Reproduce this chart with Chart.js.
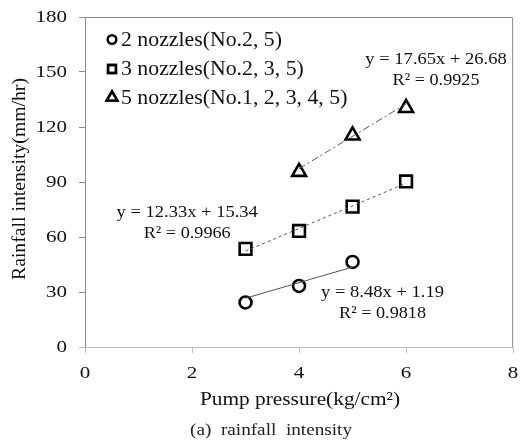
<!DOCTYPE html>
<html>
<head>
<meta charset="utf-8">
<script src="https://cdn.jsdelivr.net/npm/chart.js@4.4.0/dist/chart.umd.min.js"></script>
<style>
  html, body { margin: 0; padding: 0; background: #fff; }
  #wrap { width: 524px; height: 444px; position: relative; }
</style>
</head>
<body>
<div id="wrap"><canvas id="grafica"></canvas></div>
<script>
// datos
const seriesNames = ['2 nozzles(No.2, 5)', '3 nozzles(No.2, 3, 5)', '5 nozzles(No.1, 2, 3, 4, 5)'];
const x2 = [3, 4, 5];
const y2 = [24.3, 33.3, 46.4];
const x3 = [3, 4, 5, 6];
const y3 = [53.5, 63.3, 76.6, 90.3];
const x5 = [4, 5, 6];
const y5 = [95.5, 115.4, 130.4];

// lineas de tendencia (extremos)
const trendX2 = [3, 5];
const trendY2 = [26.63, 43.59];
const trendX3 = [3, 6];
const trendY3 = [52.33, 89.32];
const trendX5 = [4, 6];
const trendY5 = [97.28, 132.58];

const eqText = [
    ['y = 8.48x + 1.19', 'R\u00b2 = 0.9818'],
    ['y = 12.33x + 15.34', 'R\u00b2 = 0.9966'],
    ['y = 17.65x + 26.68', 'R\u00b2 = 0.9925']
];
// posicion de las ecuaciones en coordenadas de datos
const eqX = [5.56, 1.91, 6.56];
const eqY = [29.5, 73.1, 156.6];

const xTicks = [0, 2, 4, 6, 8];
const yTicks = [0, 30, 60, 90, 120, 150, 180];
const xTitle = 'Pump pressure(kg/cm\u00b2)';
const yTitle = 'Rainfall intensity(mm/hr)';
const caption = '(a)  rainfall  intensity';

const serif = '"Liberation Serif", "Times New Roman", serif';
const markers = ['circle', 'rect', 'triangle'];

function pts(xs, ys) {
    return xs.map((v, i) => ({ x: v, y: ys[i] }));
}

// texto con estiramiento horizontal (la figura original esta algo ensanchada)
// si ancho > 0, se ajusta el texto a ese ancho
function texto(c, t, x, y, size, stretch, align, rot, ancho) {
    c.save();
    c.font = size + 'px ' + serif;
    if (ancho) stretch = ancho / c.measureText(t).width;
    c.translate(x, y);
    if (rot) c.rotate(rot);
    c.scale(stretch, 1);
    c.textAlign = align || 'center';
    c.textBaseline = 'middle';
    c.fillText(t, 0, 0);
    c.restore();
}

const marca = {
    type: 'scatter',
    backgroundColor: '#fff',
    borderColor: '#000',
    borderWidth: 2.6,
    pointRadius: 6,
    pointHoverRadius: 6,
    showLine: false
};
const tendencia = {
    type: 'line',
    borderColor: '#555',
    borderWidth: 1,
    pointRadius: 0,
    pointHoverRadius: 0,
    fill: false
};

const plotBox = {
    id: 'plotBox',
    beforeDatasetsDraw(chart) {
        const c = chart.ctx, a = chart.chartArea;
        c.save();
        c.lineWidth = 1;
        c.strokeStyle = '#8a8a8a';
        c.beginPath();
        c.moveTo(a.left + 0.5, a.bottom);
        c.lineTo(a.left + 0.5, a.top + 0.5);
        c.lineTo(a.right - 0.5, a.top + 0.5);
        c.lineTo(a.right - 0.5, a.bottom);
        c.stroke();
        c.strokeStyle = '#bdbdbd';
        c.beginPath();
        c.moveTo(a.left - 6, a.bottom + 0.5);
        c.lineTo(a.right, a.bottom + 0.5);
        c.stroke();
        c.restore();
    },
    afterDraw(chart) {
        const c = chart.ctx, xs = chart.scales.x, ys = chart.scales.y, a = chart.chartArea;
        c.save();
        c.fillStyle = '#111';
        // etiquetas de los ejes
        yTicks.forEach(v => texto(c, String(v), 67, ys.getPixelForValue(v), 17.5, 1.2, 'right'));
        xTicks.forEach(v => texto(c, String(v), xs.getPixelForValue(v), 373, 17.5, 1.2, 'center'));
        texto(c, xTitle, 300, 400, 19, 1, 'center', 0, 200);
        texto(c, yTitle, 20, 179, 18.5, 1, 'center', -Math.PI / 2, 202);
        // leyenda
        const ly = [39.5, 69, 97.5];
        seriesNames.forEach((n, i) => {
            c.strokeStyle = '#000';
            c.fillStyle = '#fff';
            const r = [4.3, 5.6, 6.2][i];
            Chart.helpers.drawPoint(c, { pointStyle: markers[i], radius: r, borderWidth: 2.4 }, 112, ly[i]);
            c.lineWidth = 2.4;
            c.stroke();
            c.fillStyle = '#111';
            texto(c, n, 121, ly[i] + 1, 20, 1.09, 'left');
        });
        // ecuaciones
        eqText.forEach((t, i) => {
            const px = xs.getPixelForValue(eqX[i]);
            const py = ys.getPixelForValue(eqY[i]);
            texto(c, t[0], px, py, 17, 1.09, 'center');
            texto(c, t[1], px, py + 21, 17, 1.07, 'center');
        });
        // pie de figura
        c.fillStyle = '#222';
        texto(c, caption, 271, 431, 16, 1, 'center', 0, 162);
        c.restore();
    }
};

const ctx = document.getElementById('grafica').getContext('2d');
new Chart(ctx, {
    data: {
        datasets: [
            Object.assign({}, tendencia, { label: 't2', data: pts(trendX2, trendY2) }),
            Object.assign({}, tendencia, { label: 't3', data: pts(trendX3, trendY3), borderDash: [3, 3] }),
            Object.assign({}, tendencia, { label: 't5', data: pts(trendX5, trendY5), borderDash: [7, 3, 2, 3] }),
            Object.assign({}, marca, { label: seriesNames[0], data: pts(x2, y2), pointStyle: 'circle' }),
            Object.assign({}, marca, { label: seriesNames[1], data: pts(x3, y3), pointStyle: 'rect', pointRadius: 8.3, pointHoverRadius: 8.3 }),
            Object.assign({}, marca, { label: seriesNames[2], data: pts(x5, y5), pointStyle: 'triangle', pointRadius: 8, pointHoverRadius: 8 })
        ]
    },
    options: {
        responsive: true,
        maintainAspectRatio: false,
        animation: false,
        layout: { padding: { top: 17, right: 7, left: 0, bottom: 0 } },
        plugins: { legend: { display: false }, tooltip: { enabled: false } },
        scales: {
            x: {
                type: 'linear',
                min: 0, max: 8,
                afterBuildTicks: s => { s.ticks = xTicks.map(v => ({ value: v })); },
                afterFit: s => { s.height = 97; },
                border: { display: false },
                grid: { drawOnChartArea: false, drawTicks: true, tickLength: 6, color: '#bdbdbd' },
                ticks: { display: false }
            },
            y: {
                type: 'linear',
                min: 0, max: 180,
                afterBuildTicks: s => { s.ticks = yTicks.map(v => ({ value: v })); },
                afterFit: s => { s.width = 85; },
                border: { display: false },
                grid: { drawOnChartArea: false, drawTicks: true, tickLength: 6, color: '#8a8a8a' },
                ticks: { display: false }
            }
        }
    },
    plugins: [plotBox]
});
</script>
</body>
</html>
